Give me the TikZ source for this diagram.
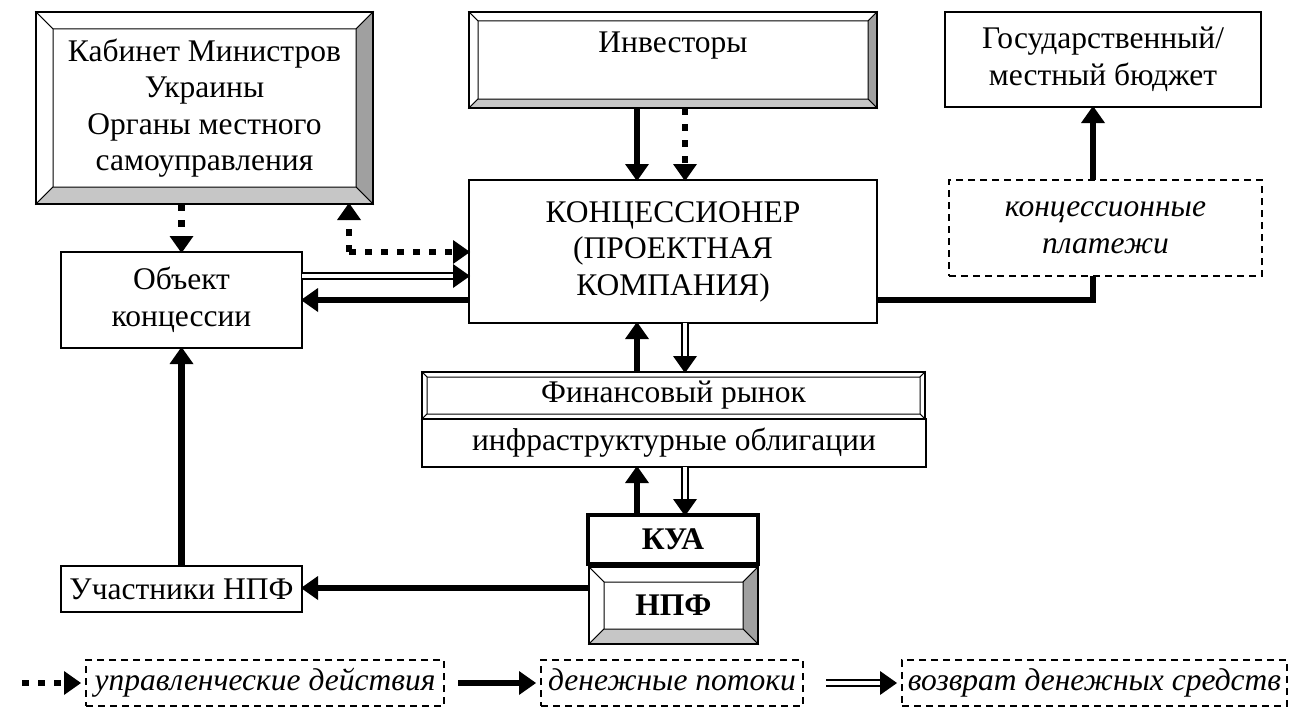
\documentclass[tikz,border=0pt]{standalone}
\usepackage{fontspec}
\setmainfont{Liberation Serif}
\usetikzlibrary{decorations.markings}

\definecolor{bevdark}{HTML}{A0A0A0}
\definecolor{bevmid}{HTML}{C6C6C6}

% rectangle node given by its corners (x1,y1) -- (x2,y2)
\newcommand\cornerbox[7]{%
  \node[#1, minimum width={(#5)-(#3)}, minimum height={(#6)-(#4)}]
    (#2) at ({((#3)+(#5))/2},{((#4)+(#6))/2}) {#7};}

% raised frame drawn inside the border of a node: name, width, right colour, bottom colour
\newcommand\bevelframe[4]{%
  \coordinate (#1-nw) at (#1.north west);
  \coordinate (#1-ne) at (#1.north east);
  \coordinate (#1-se) at (#1.south east);
  \coordinate (#1-sw) at (#1.south west);
  \coordinate (#1-inw) at ([xshift=#2pt,yshift=-#2pt]#1.north west);
  \coordinate (#1-ine) at ([xshift=-#2pt,yshift=-#2pt]#1.north east);
  \coordinate (#1-ise) at ([xshift=-#2pt,yshift=#2pt]#1.south east);
  \coordinate (#1-isw) at ([xshift=#2pt,yshift=#2pt]#1.south west);
  \filldraw[bevface, fill=white] (#1-nw) -- (#1-ne) -- (#1-ine) -- (#1-inw) -- cycle;
  \filldraw[bevface, fill=white] (#1-nw) -- (#1-inw) -- (#1-isw) -- (#1-sw) -- cycle;
  \filldraw[bevface, fill=#3] (#1-ne) -- (#1-se) -- (#1-ise) -- (#1-ine) -- cycle;
  \filldraw[bevface, fill=#4] (#1-sw) -- (#1-isw) -- (#1-ise) -- (#1-se) -- cycle;
  \draw[line width=1.5pt] (#1-nw) rectangle (#1-se);}

\tikzset{
  txt/.style={font=\fontsize{31.5}{36.5}\selectfont},
  stdbox/.style={draw, line width=1.5pt, fill=white, outer sep=0pt, inner sep=0pt,
    align=center, txt},
  notebox/.style={stdbox, dash pattern=on 7pt off 5pt,
    font=\fontsize{31.5}{36.5}\selectfont\itshape},
  heavybox/.style={stdbox, line width=4pt},
  bevface/.style={draw=black, line width=1pt, line join=miter},
  tipend/.style={postaction={decorate, decoration={markings,
    mark=at position 1 with {\fill[black, shorten >=0pt]
      (1pt,0pt) -- (-16pt,12pt) -- (-16pt,-12pt) -- cycle;}}}},
  money/.style={line width=6.5pt, shorten >=13pt, tipend},
  moneyline/.style={line width=6.5pt, line join=miter},
  ctrl/.style={line width=6.5pt, dash pattern=on 7pt off 9pt, shorten >=13pt, tipend},
  ret/.style={double, line width=2pt, double distance=3.5pt, shorten >=13pt, tipend},
}

\begin{document}
\begin{tikzpicture}[x=1pt, y=-1pt]
\useasboundingbox (0,0) rectangle (1303,709);
\fill[white] (0,0) rectangle (1303,709);

% boxes
\cornerbox{stdbox}{A}{36}{12}{373}{204}{Кабинет Министров\\Украины\\Органы местного\\самоуправления}
\bevelframe{A}{17}{bevdark}{bevmid}
\cornerbox{stdbox}{B}{469}{12}{877}{108}{\raisebox{14pt}[\height][\depth]{Инвесторы}}
\bevelframe{B}{9}{bevdark}{bevmid}
\cornerbox{stdbox}{C}{945}{12}{1261}{107}{Государственный/\\местный бюджет}
\cornerbox{stdbox}{D}{469}{180}{877}{323}{КОНЦЕССИОНЕР\\(ПРОЕКТНАЯ\\КОМПАНИЯ)}
\cornerbox{notebox}{E}{949}{180}{1262}{276}{концессионные\\платежи}
\cornerbox{stdbox}{F}{61}{252}{302}{348}{Объект\\концессии}
\cornerbox{stdbox}{G}{422}{372}{925}{419}{Финансовый рынок}
\bevelframe{G}{5}{white}{white}
\cornerbox{stdbox}{H}{422}{419}{926}{467}{инфраструктурные облигации}
\cornerbox{heavybox}{I}{588}{515}{758}{564}{\bfseries КУА}
\cornerbox{stdbox}{J}{589}{567}{758}{644}{\bfseries НПФ}
\bevelframe{J}{15}{bevdark}{bevmid}
\cornerbox{stdbox}{K}{61}{566}{302}{612}{Участники НПФ}

% legend boxes (struts keep the three captions on one baseline)
\cornerbox{notebox}{L1}{86}{660}{444}{706}{\strut управленческие действия}
\cornerbox{notebox}{L2}{541}{660}{803}{706}{\strut денежные потоки}
\cornerbox{notebox}{L3}{902}{660}{1287}{706}{\strut возврат денежных средств}

% guide coordinates for the connectors
\coordinate (xm) at (637,0);
\coordinate (xr) at (685,0);
\coordinate (elb) at (349,252);
\coordinate (yr) at (0,276);
\coordinate (ym) at (0,300);
\coordinate (pay) at (1093,300);
\coordinate (yk) at (0,588);

% connectors
\draw[money] (B.south -| xm) -- (D.north -| xm);
\draw[ctrl]  (B.south -| xr) -- (D.north -| xr);
\draw[money] (G.north -| xm) -- (D.south -| xm);
\draw[ret]   (D.south -| xr) -- (G.north -| xr);
\draw[money] (I.north -| xm) -- (H.south -| xm);
\draw[ret]   (H.south -| xr) -- (I.north -| xr);

\draw[ctrl] (A.south -| F.north) -- (F.north);
\draw[ctrl] (elb) -- (A.south -| elb);
\draw[ctrl] (elb) -- (D.west |- elb);
\draw[ret]   (F.east |- yr) -- (D.west |- yr);
\draw[money] (D.west |- ym) -- (F.east |- ym);

\draw[moneyline] (D.east |- pay) -- (pay) -- (E.south -| pay);
\draw[money] (E.north -| pay) -- (C.south -| pay);

\draw[money] (J.west |- yk) -- (K.east |- yk);
\draw[money] (K.north) -- (F.south);

% legend arrows, each stopping just short of its box
\coordinate (g1) at (22,683);
\coordinate (g2) at (458,683);
\coordinate (g3) at (826,683);
\draw[ctrl]  (g1) -- ([xshift=-6pt]L1.west);
\draw[money] (g2) -- ([xshift=-6pt]L2.west);
\draw[ret]   (g3) -- ([xshift=-6pt]L3.west);
\end{tikzpicture}
\end{document}
